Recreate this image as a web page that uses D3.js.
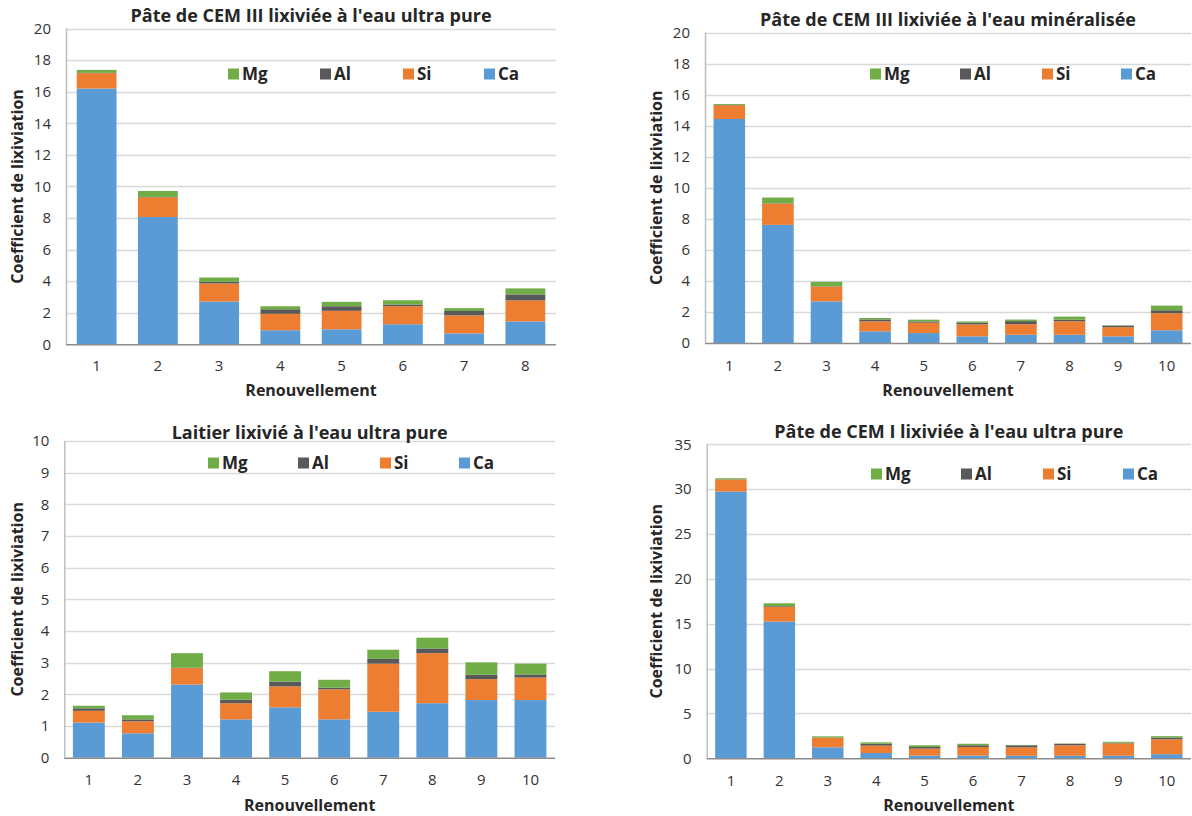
<!DOCTYPE html>
<html>
<head>
<meta charset="utf-8">
<script src="https://cdn.jsdelivr.net/npm/d3@7/dist/d3.min.js"></script>
<style>
  html, body { margin: 0; padding: 0; background: #ffffff; }
  svg { display: block; }
  text { font-family: "Open Sans", "Noto Sans", sans-serif; }
</style>
</head>
<body>
<svg id="chart" width="1192" height="816"></svg>
<script>
// ---------- DATA ----------
const seriesNames = ["Ca", "Si", "Al", "Mg"];
const legendOrder = ["Mg", "Al", "Si", "Ca"];

const p1Title = "Pâte de CEM III lixiviée à l'eau ultra pure";
const p1Categories = ["1", "2", "3", "4", "5", "6", "7", "8"];
const p1Ca = [16.2, 8.06, 2.71, 0.89, 0.95, 1.27, 0.69, 1.45];
const p1Si = [0.97, 1.25, 1.14, 1.04, 1.17, 1.14, 1.14, 1.33];
const p1Al = [0.02, 0.02, 0.11, 0.29, 0.29, 0.11, 0.28, 0.38];
const p1Mg = [0.19, 0.38, 0.27, 0.19, 0.28, 0.27, 0.18, 0.38];
const p1Ticks = [0, 2, 4, 6, 8, 10, 12, 14, 16, 18, 20];

const p2Title = "Pâte de CEM III lixiviée à l'eau minéralisée";
const p2Categories = ["1", "2", "3", "4", "5", "6", "7", "8", "9", "10"];
const p2Ca = [14.43, 7.61, 2.68, 0.75, 0.64, 0.43, 0.53, 0.53, 0.43, 0.82];
const p2Si = [0.88, 1.37, 0.96, 0.64, 0.67, 0.77, 0.68, 0.87, 0.59, 1.10];
const p2Al = [0.02, 0.02, 0.02, 0.13, 0.08, 0.11, 0.20, 0.10, 0.10, 0.19];
const p2Mg = [0.06, 0.37, 0.28, 0.09, 0.11, 0.08, 0.10, 0.20, 0.02, 0.30];
const p2Ticks = [0, 2, 4, 6, 8, 10, 12, 14, 16, 18, 20];

const p3Title = "Laitier lixivié à l'eau ultra pure";
const p3Categories = ["1", "2", "3", "4", "5", "6", "7", "8", "9", "10"];
const p3Ca = [1.11, 0.77, 2.31, 1.21, 1.59, 1.21, 1.45, 1.72, 1.82, 1.82];
const p3Si = [0.37, 0.38, 0.52, 0.51, 0.66, 0.95, 1.52, 1.58, 0.66, 0.71];
const p3Al = [0.08, 0.06, 0.01, 0.11, 0.15, 0.05, 0.15, 0.15, 0.14, 0.10];
const p3Mg = [0.08, 0.13, 0.46, 0.23, 0.33, 0.25, 0.29, 0.34, 0.39, 0.34];
const p3Ticks = [0, 1, 2, 3, 4, 5, 6, 7, 8, 9, 10];

const p4Title = "Pâte de CEM I lixiviée à l'eau ultra pure";
const p4Categories = ["1", "2", "3", "4", "5", "6", "7", "8", "9", "10"];
const p4Ca = [29.73, 15.24, 1.23, 0.59, 0.30, 0.30, 0.28, 0.28, 0.28, 0.46];
const p4Si = [1.34, 1.63, 1.07, 0.82, 0.78, 0.96, 0.95, 1.17, 1.39, 1.66];
const p4Al = [0.03, 0.08, 0.03, 0.21, 0.18, 0.19, 0.22, 0.17, 0.06, 0.20];
const p4Mg = [0.12, 0.33, 0.12, 0.16, 0.19, 0.17, 0.04, 0.03, 0.11, 0.15];
const p4Ticks = [0, 5, 10, 15, 20, 25, 30, 35];

const xAxisTitle = "Renouvellement";
const yAxisTitle = "Coefficient de lixiviation";

// ---------- STYLE ----------
const colors = { Ca: "#5B9BD5", Si: "#ED7D31", Al: "#595959", Mg: "#70AD47" };

const svg = d3.select("#chart");

function drawPanel(cfg) {
  const { title, categories, values, ticks, box, titleY, legendY, legendX, yTitleX, tickLabelY, xTitleY } = cfg;
  const g = svg.append("g");

  const x = d3.scaleBand().domain(categories).range([box.left, box.right])
    .paddingInner(0.35).paddingOuter(0.175);
  const y = d3.scaleLinear().domain([0, d3.max(ticks)]).range([box.bottom, box.top]);

  // gridlines
  g.append("g").selectAll("line").data(ticks.filter(t => t > 0)).join("line")
    .attr("x1", box.left).attr("x2", box.right)
    .attr("y1", d => Math.round(y(d)) + 0.5).attr("y2", d => Math.round(y(d)) + 0.5)
    .attr("stroke", "#D9D9D9").attr("stroke-width", 1.5);

  // stacked bars
  const rows = categories.map((c, i) => {
    const r = { cat: c };
    seriesNames.forEach(s => r[s] = values[s][i]);
    return r;
  });
  const stack = d3.stack().keys(seriesNames)(rows);
  g.append("g").selectAll("g").data(stack).join("g")
    .attr("fill", d => colors[d.key])
    .selectAll("rect").data(d => d).join("rect")
    .attr("x", d => x(d.data.cat))
    .attr("width", x.bandwidth())
    .attr("y", d => y(d[1]))
    .attr("height", d => Math.max(0, y(d[0]) - y(d[1])));

  // y axis line
  g.append("line")
    .attr("x1", box.left + 0.5).attr("x2", box.left + 0.5)
    .attr("y1", box.top).attr("y2", box.bottom)
    .attr("stroke", "#BFBFBF").attr("stroke-width", 1.5);
  // x axis line
  g.append("line")
    .attr("x1", box.left).attr("x2", box.right)
    .attr("y1", box.bottom + 0.5).attr("y2", box.bottom + 0.5)
    .attr("stroke", "#8C8C8C").attr("stroke-width", 1.5);

  // y tick labels via axis
  const yAxis = d3.axisLeft(y).tickValues(ticks).tickSize(0).tickPadding(15).tickFormat(d3.format("d"));
  const ya = g.append("g").attr("transform", `translate(${box.left},0)`).call(yAxis);
  ya.select(".domain").remove();
  ya.selectAll("text").attr("font-size", 15).attr("fill", "#333333")
    .attr("font-family", "'Open Sans', sans-serif");

  // x tick labels via axis
  const xAxis = d3.axisBottom(x).tickSize(0).tickPadding(0);
  const xa = g.append("g").attr("transform", `translate(0,${tickLabelY})`).call(xAxis);
  xa.select(".domain").remove();
  xa.selectAll("text").attr("font-size", 15).attr("fill", "#333333")
    .attr("dy", "0.35em").attr("y", 0)
    .attr("font-family", "'Open Sans', sans-serif");

  // title
  g.append("text").attr("x", (box.left + box.right) / 2).attr("y", titleY)
    .attr("text-anchor", "middle").attr("font-weight", "bold").attr("font-size", 18)
    .attr("fill", "#262626").text(title);

  // axis titles
  g.append("text").attr("x", (box.left + box.right) / 2).attr("y", xTitleY)
    .attr("text-anchor", "middle").attr("dy", "0.35em").attr("font-weight", "bold").attr("font-size", 16)
    .attr("fill", "#262626").text(xAxisTitle);
  g.append("text")
    .attr("transform", `translate(${yTitleX},${(box.top + box.bottom) / 2}) rotate(-90)`)
    .attr("text-anchor", "middle").attr("dy", "0.35em").attr("font-weight", "bold").attr("font-size", 16)
    .attr("fill", "#262626").text(yAxisTitle);

  // legend
  const lg = g.append("g");
  legendOrder.forEach((s, i) => {
    lg.append("rect").attr("x", legendX[i]).attr("y", legendY - 5.5)
      .attr("width", 11).attr("height", 11).attr("fill", colors[s]);
    lg.append("text").attr("x", legendX[i] + 14).attr("y", legendY).attr("dy", "0.35em")
      .attr("font-weight", "bold").attr("font-size", 17).attr("fill", "#262626").text(s);
  });
}

drawPanel({
  title: p1Title, categories: p1Categories, ticks: p1Ticks,
  values: { Ca: p1Ca, Si: p1Si, Al: p1Al, Mg: p1Mg },
  box: { left: 66, right: 556, top: 28.5, bottom: 344.3 },
  titleY: 22, legendY: 74, legendX: [228, 320, 403, 484],
  yTitleX: 17, tickLabelY: 366, xTitleY: 390
});
drawPanel({
  title: p2Title, categories: p2Categories, ticks: p2Ticks,
  values: { Ca: p2Ca, Si: p2Si, Al: p2Al, Mg: p2Mg },
  box: { left: 705, right: 1191, top: 32.5, bottom: 343 },
  titleY: 26, legendY: 74, legendX: [870, 960, 1042, 1121],
  yTitleX: 656, tickLabelY: 366, xTitleY: 390
});
drawPanel({
  title: p3Title, categories: p3Categories, ticks: p3Ticks,
  values: { Ca: p3Ca, Si: p3Si, Al: p3Al, Mg: p3Mg },
  box: { left: 64.3, right: 555, top: 441, bottom: 757.7 },
  titleY: 439, legendY: 463, legendX: [208, 298, 380, 459],
  yTitleX: 17, tickLabelY: 780, xTitleY: 805
});
drawPanel({
  title: p4Title, categories: p4Categories, ticks: p4Ticks,
  values: { Ca: p4Ca, Si: p4Si, Al: p4Al, Mg: p4Mg },
  box: { left: 706.7, right: 1191, top: 444.3, bottom: 758.3 },
  titleY: 438, legendY: 474, legendX: [871, 961, 1043, 1123],
  yTitleX: 656, tickLabelY: 781, xTitleY: 805
});
</script>
</body>
</html>
